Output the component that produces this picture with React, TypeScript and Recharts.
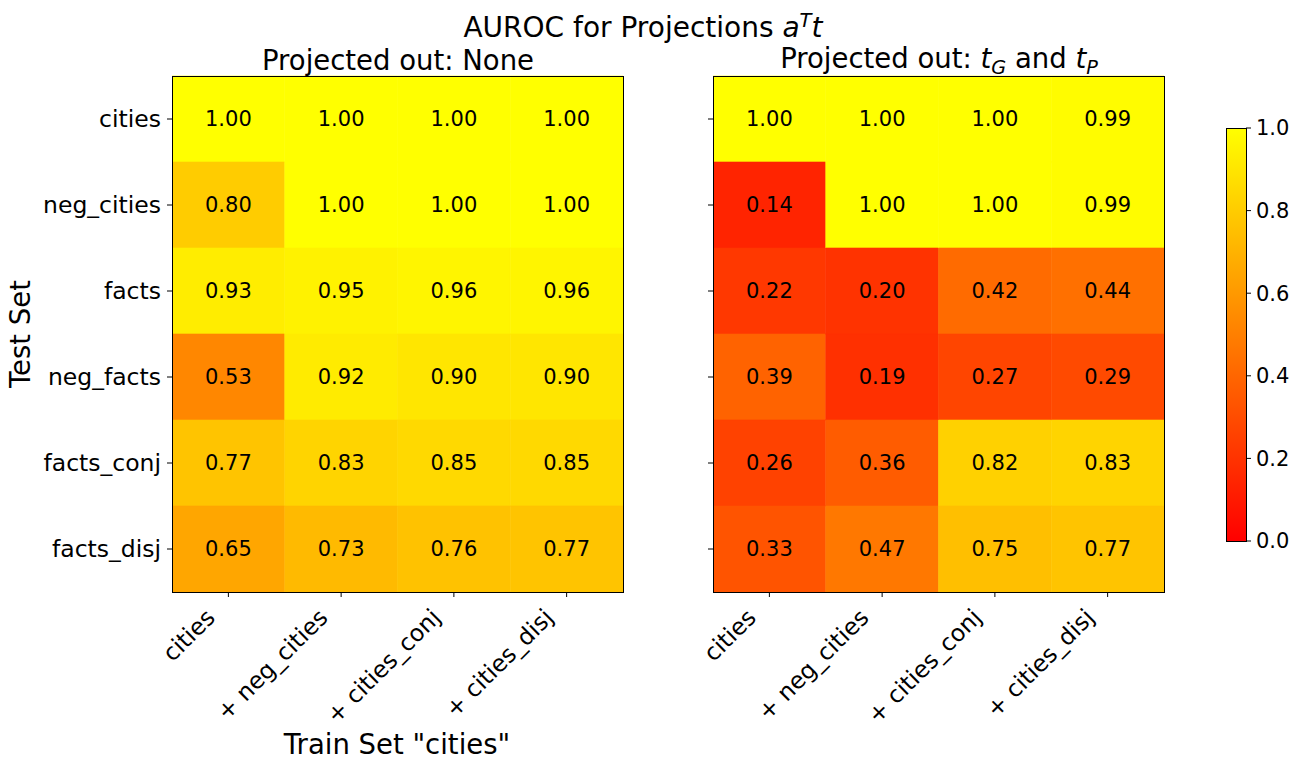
import { BarChart, Bar, XAxis, YAxis, Cell, LabelList } from 'recharts';

const testSets = ['cities', 'neg_cities', 'facts', 'neg_facts', 'facts_conj', 'facts_disj'];
const trainSets = ['cities', '+ neg_cities', '+ cities_conj', '+ cities_disj'];

// rows = test sets, columns = train sets
const aurocNone = [
  [1.0, 1.0, 1.0, 1.0],
  [0.8, 1.0, 1.0, 1.0],
  [0.93, 0.95, 0.96, 0.96],
  [0.53, 0.92, 0.9, 0.9],
  [0.77, 0.83, 0.85, 0.85],
  [0.65, 0.73, 0.76, 0.77],
];
const aurocProjected = [
  [1.0, 1.0, 1.0, 0.99],
  [0.14, 1.0, 1.0, 0.99],
  [0.22, 0.2, 0.42, 0.44],
  [0.39, 0.19, 0.27, 0.29],
  [0.26, 0.36, 0.82, 0.83],
  [0.33, 0.47, 0.75, 0.77],
];
const colorbarTicks = [0, 0.2, 0.4, 0.6, 0.8, 1.0];

const FONT = '"DejaVu Sans", sans-serif';

// matplotlib "autumn" colormap: red -> yellow
const autumn = (v: number) => `rgb(255, ${Math.round(255 * v)}, 0)`;

const buildRows = (values: number[][]) =>
  testSets.map((name, i) => {
    const row: Record<string, string | number> = { name };
    trainSets.forEach((_, j) => {
      row[`v${j}`] = values[i][j];
      row[`w${j}`] = 1;
    });
    return row;
  });

const XTick = (props: any) => {
  const { x, y, payload } = props;
  const label = trainSets[Math.floor(payload.value)];
  return (
    <g transform={`translate(${x - 12},${y + 18})`}>
      <text transform="rotate(-45)" textAnchor="end" fontSize={23.5} fill="#000" fontFamily={FONT}>
        {label}
      </text>
    </g>
  );
};

type HeatProps = {
  values: number[][];
  showLabels: boolean;
  left: number;
  width: number;
  yAxisWidth: number;
};

const Heatmap = ({ values, showLabels, left, width, yAxisWidth }: HeatProps) => {
  const data = buildRows(values);
  return (
    <div style={{ position: 'absolute', left, top: 0 }}>
      <BarChart
        width={width}
        height={770}
        data={data}
        layout="vertical"
        barCategoryGap={0}
        barGap={0}
        margin={{ top: 76, right: width - yAxisWidth - 451, bottom: 78, left: 0 }}
      >
        <XAxis
          type="number"
          domain={[0, 4]}
          ticks={[0.5, 1.5, 2.5, 3.5]}
          interval={0}
          height={100}
          axisLine={false}
          tickLine={{ stroke: '#000' }}
          tickSize={5}
          tickMargin={4}
          tick={<XTick />}
          allowDataOverflow
        />
        <YAxis
          type="category"
          dataKey="name"
          width={yAxisWidth}
          axisLine={false}
          tickLine={{ stroke: '#000' }}
          tickSize={5}
          tickMargin={6}
          interval={0}
          tick={{ fill: '#000', fontSize: 23.5, fontFamily: FONT }}
          tickFormatter={(v: string) => (showLabels ? v : '')}
        />
        {trainSets.map((_, j) => (
          <Bar key={j} dataKey={`w${j}`} stackId="grid" isAnimationActive={false}>
            {testSets.map((_, i) => (
              <Cell key={i} fill={autumn(values[i][j])} stroke={autumn(values[i][j])} strokeWidth={0.6} />
            ))}
            <LabelList
              dataKey={`v${j}`}
              position="center"
              formatter={(v: any) => Number(v).toFixed(2)}
              fill="#000"
              fontSize={21}
              fontFamily={FONT}
            />
          </Bar>
        ))}
      </BarChart>
    </div>
  );
};

const Colorbar = () => (
  <div style={{ position: 'absolute', left: 1200, top: 0 }}>
    <BarChart
      width={101}
      height={770}
      data={[{ name: 'scale', top: 1 }]}
      barCategoryGap={0}
      margin={{ top: 128, right: 0, bottom: 229, left: 26 }}
    >
      <defs>
        <linearGradient id="autumnBar" x1="0" y1="1" x2="0" y2="0">
          <stop offset="0%" stopColor="rgb(255,0,0)" />
          <stop offset="100%" stopColor="rgb(255,255,0)" />
        </linearGradient>
      </defs>
      <XAxis dataKey="name" hide />
      <YAxis
        orientation="right"
        domain={[0, 1]}
        ticks={colorbarTicks}
        width={55}
        axisLine={false}
        tickLine={{ stroke: '#000' }}
        tickSize={5}
        tickMargin={5}
        tick={{ fill: '#000', fontSize: 21, fontFamily: FONT, textAnchor: 'start' }}
        tickFormatter={(v: number) => v.toFixed(1)}
      />
      <Bar dataKey="top" fill="url(#autumnBar)" isAnimationActive={false} />
    </BarChart>
  </div>
);

const frame = (left: number, top: number, w: number, h: number) => (
  <div
    style={{
      position: 'absolute',
      left,
      top,
      width: w,
      height: h,
      border: '1px solid #000',
      boxSizing: 'border-box',
      pointerEvents: 'none',
    }}
  />
);

const text = (content: any, cx: number, cy: number, size: number, rotate = 0) => (
  <div
    style={{
      position: 'absolute',
      left: cx,
      top: cy,
      transform: `translate(-50%, -50%) rotate(${rotate}deg)`,
      fontSize: size,
      whiteSpace: 'nowrap',
      color: '#000',
      lineHeight: 1,
    }}
  >
    {content}
  </div>
);

export default function App() {
  return (
    <div
      style={{
        position: 'absolute',
        left: 0,
        top: 0,
        width: 1301,
        height: 770,
        background: '#fff',
        fontFamily: FONT,
      }}
    >
      <Heatmap values={aurocNone} showLabels left={0} width={640} yAxisWidth={172} />
      <Heatmap values={aurocProjected} showLabels={false} left={663} width={520} yAxisWidth={50} />
      <Colorbar />
      {frame(172, 76, 452, 517)}
      {frame(713, 76, 452, 517)}
      {frame(1226, 128, 21, 414)}
      {text(
        <span>
          AUROC for Projections <i>a</i>
          <sup style={{ fontSize: '0.7em', fontStyle: 'italic' }}>T</sup>
          <i>t</i>
        </span>,
        643,
        27,
        28
      )}
      {text('Projected out: None', 398, 61, 27.5)}
      {text(
        <span>
          Projected out: <i>t</i>
          <sub style={{ fontSize: '0.7em', fontStyle: 'italic' }}>G</sub> and <i>t</i>
          <sub style={{ fontSize: '0.7em', fontStyle: 'italic' }}>P</sub>
        </span>,
        939,
        61,
        27.5
      )}
      {text('Test Set', 21, 334, 27.5, -90)}
      {text('Train Set "cities"', 397, 745, 27.5)}
    </div>
  );
}
